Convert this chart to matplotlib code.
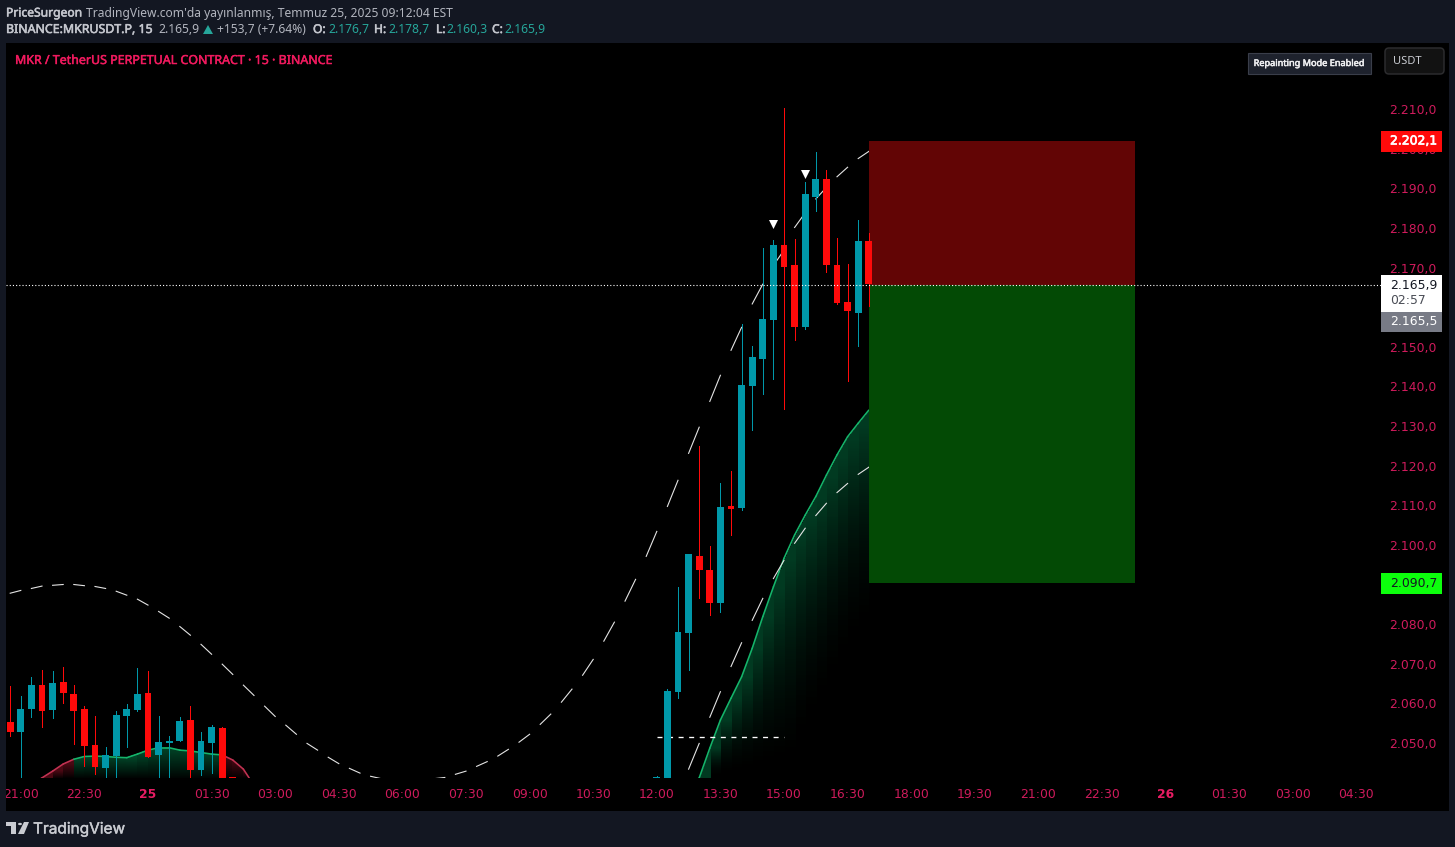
import matplotlib
matplotlib.use("Agg")
import matplotlib.pyplot as plt
import matplotlib.patheffects as pe
from matplotlib.patches import Rectangle, FancyBboxPatch, Polygon, Circle
import numpy as np

W, H = 1455, 847
PAGE = "#131722"
TEAL = "#0098a9"
RED = "#ff0a0a"
AXIS_TXT = "#cf1b5c"

# candles, bar index 0 = 21:00, one bar = 15 min
left_idx = list(range(-1, 21))
left_o = [2055.3, 2052.8, 2058.6, 2064.6, 2058.3, 2065.4, 2062.4, 2058.6, 2049.5, 2043.7, 2046.7,
          2056.8, 2058.3, 2062.6, 2047.0, 2050.0, 2050.5, 2055.8, 2043.2, 2050.0, 2053.8, 2041.4]
left_h = [2064.4, 2061.9, 2066.7, 2068.4, 2068.2, 2069.2, 2064.6, 2059.3, 2056.8, 2049.0, 2058.1,
          2059.9, 2068.9, 2068.2, 2056.8, 2051.8, 2056.6, 2059.3, 2052.8, 2054.6, 2054.0, 2041.4]
left_l = [2051.8, 2040.0, 2056.6, 2054.0, 2056.3, 2060.1, 2049.8, 2044.2, 2042.2, 2040.0, 2040.0,
          2049.0, 2058.1, 2046.5, 2041.4, 2040.0, 2050.5, 2040.0, 2041.9, 2042.4, 2030.0, 2030.0]
left_c = [2052.8, 2058.6, 2064.6, 2058.1, 2065.2, 2062.6, 2058.1, 2049.3, 2044.0, 2047.0, 2057.1,
          2058.6, 2062.4, 2046.5, 2050.3, 2050.5, 2055.6, 2043.2, 2050.5, 2054.0, 2038.0, 2030.0]

right_idx = list(range(60, 81))
right_o = [2041.2, 2030.0, 2062.9, 2077.8, 2097.2, 2093.7, 2085.3, 2109.8, 2109.3, 2140.1, 2146.9,
           2156.8, 2175.7, 2170.6, 2155.0, 2187.8, 2192.3, 2170.6, 2161.3, 2158.5, 2176.7]
right_h = [2041.6, 2063.6, 2089.4, 2097.7, 2124.9, 2099.7, 2115.6, 2118.6, 2155.8, 2150.2, 2174.9,
           2177.0, 2210.3, 2177.2, 2191.6, 2199.1, 2194.6, 2177.5, 2170.9, 2182.0, 2178.7]
right_l = [2041.0, 2030.0, 2061.4, 2068.4, 2086.6, 2082.3, 2083.1, 2102.5, 2108.9, 2129.0, 2138.1,
           2141.9, 2134.3, 2151.7, 2154.5, 2184.3, 2168.9, 2160.8, 2141.4, 2150.2, 2160.3]
right_c = [2041.4, 2063.1, 2078.0, 2097.7, 2093.7, 2085.3, 2109.5, 2109.0, 2140.4, 2147.4, 2157.0,
           2175.7, 2170.1, 2155.0, 2188.6, 2192.3, 2170.6, 2161.0, 2159.0, 2176.7, 2165.9]

# upper dashed band, bars -1 .. 80
upper_band = [2087.8, 2088.5, 2089.0, 2089.6, 2089.8, 2090.0, 2090.0, 2089.7, 2089.5, 2089.0, 2088.3,
              2087.3, 2086.3, 2084.8, 2083.2, 2081.5, 2079.4, 2077.2, 2074.9, 2072.4, 2069.9, 2067.3,
              2064.6, 2062.0, 2059.3, 2056.7, 2054.5, 2052.2, 2049.9, 2048.2, 2046.4, 2044.8, 2043.6,
              2042.4, 2041.6, 2041.0, 2040.2, 2039.6, 2039.4, 2039.8, 2041.0, 2041.3, 2042.1, 2042.9,
              2044.1, 2045.3, 2046.7, 2048.4, 2050.2, 2052.2, 2054.7, 2057.3, 2060.3, 2063.6, 2067.1,
              2071.1, 2075.7, 2080.5, 2085.8, 2091.3, 2097.1, 2103.4, 2109.7, 2116.3, 2123.1, 2129.7,
              2136.2, 2142.8, 2149.1, 2154.9, 2160.8, 2165.8, 2170.5, 2174.4, 2180.1, 2183.8, 2187.3,
              2190.2, 2192.9, 2195.3, 2197.5, 2199.3]
# lower dashed band, bars 63 .. 80
lower_band = [2043.4, 2049.9, 2056.5, 2062.95, 2069.3, 2075.3, 2080.95, 2086.5, 2091.5, 2096.1,
              2100.4, 2104.2, 2107.4, 2110.5, 2113.2, 2115.5, 2117.8, 2119.6]

# filled area, two humps
hump1_idx = list(range(1, 23))
hump1 = [2039.5, 2041.2, 2042.9, 2044.7, 2045.9, 2046.6, 2046.7, 2046.6, 2046.4, 2046.3, 2047.2,
         2048.2, 2048.8, 2048.8, 2048.2, 2048.0, 2047.6, 2047.2, 2047.0, 2045.7, 2043.4, 2039.3]
hump1_green = [5, 19]  # first and last bar of the green stretch
hump2_idx = list(range(63, 81))
hump2 = [2034.8, 2041.2, 2048.7, 2055.8, 2061.3, 2066.7, 2073.9, 2081.9, 2089.4, 2096.6, 2102.5,
         2107.5, 2112.2, 2117.6, 2122.7, 2127.3, 2130.7, 2134.0]

level_line = 2051.5
level_bars = [60, 72]
marker_idx = [71, 74]
marker_y = [2181.0, 2193.6]

box_bars = [80.0, 105.1]
box_top, box_mid, box_bot = 2202.0, 2165.6, 2090.4
last_price = 2165.5

y_ticks = list(range(2050, 2220, 10))
x_tick_idx = list(range(0, 132, 6))
x_tick_labels = ["21:00", "22:30", "25", "01:30", "03:00", "04:30", "06:00", "07:30", "09:00", "10:30",
                 "12:00", "13:30", "15:00", "16:30", "18:00", "19:30", "21:00", "22:30", "26", "01:30",
                 "03:00", "04:30"]


def fx(x):
    return x / W


def fy(y):
    return 1 - y / H


fig = plt.figure(figsize=(W / 100, H / 100), dpi=100, facecolor=PAGE)
plt.rcParams["lines.scale_dashes"] = False


def px_rect(x0, y0, x1, y1, color, zorder=1, **kw):
    r = Rectangle((fx(x0), fy(y1)), (x1 - x0) / W, (y1 - y0) / H, transform=fig.transFigure,
                  facecolor=color, linewidth=0, zorder=zorder, **kw)
    fig.add_artist(r)
    return r


def px_text(x, y, s, color, size=8.9, stroke=0, family="DejaVu Sans", ha="left", zorder=8):
    t = fig.text(fx(x), fy(y), s, color=color, fontsize=size, family=family, ha=ha, va="center", zorder=zorder)
    if stroke:
        # fake the semibold the screenshot has
        t.set_path_effects([pe.withStroke(linewidth=stroke, foreground=color)])
    return t


px_rect(6, 43, 1449, 811, "black", zorder=-1)

# axes span the plot pane only, price and time scale sit outside it
ax_l, ax_r, ax_t, ax_b = 6, 1381, 43, 778
ax = fig.add_axes([fx(ax_l), fy(ax_b), (ax_r - ax_l) / W, (ax_b - ax_t) / H], facecolor="black")
bar_px = 10.6
bar0_px = 20.8
ax.set_xlim((ax_l - bar0_px) / bar_px, (ax_r - bar0_px) / bar_px)
ax.set_ylim(2210 - (ax_b - 109) / 3.9625, 2210 + (109 - ax_t) / 3.9625)
for s in ax.spines.values():
    s.set_visible(False)


def draw_area(idx, vals, green_from=None, green_to=None, all_green=False):
    y0, y1 = ax.get_ylim()
    ny = int((y1 - y0) * 3.9625)
    nx = int((idx[-1] - idx[0]) * bar_px)
    xs = np.linspace(idx[0], idx[-1], nx)
    ys = np.linspace(y0, y1, ny)
    rgba = np.zeros((ny, nx, 4))
    top = np.interp(xs, idx, vals)
    for j, x in enumerate(xs):
        k = int(x - idx[0])
        is_green = all_green or (green_from <= idx[k] < green_to)
        base = vals[k]
        span = max(base - y0, 2.0)
        if all_green:
            span = min(span, 55)
        t = np.clip(1 - (base - ys) / span, 0, 1)
        a = 0.3 * t ** 1.8 if all_green else 0.32 * t + 0.03
        a = np.where(ys > top[j], 0, a)
        rgba[:, j, 0] = 0.02 if is_green else 0.85
        rgba[:, j, 1] = 0.78 if is_green else 0.10
        rgba[:, j, 2] = 0.45 if is_green else 0.22
        rgba[:, j, 3] = a
    xl, yl = ax.get_xlim(), ax.get_ylim()
    ax.imshow(rgba, origin="lower", aspect="auto", extent=(idx[0], idx[-1], y0, y1), zorder=1,
              interpolation="nearest")
    ax.set_xlim(xl)
    ax.set_ylim(yl)
    for k in range(len(idx) - 1):
        is_green = all_green or (green_from <= idx[k] < green_to)
        ax.plot(idx[k:k + 2], vals[k:k + 2], color="#15b56b" if is_green else "#c23252", lw=1.15, zorder=2,
                solid_capstyle="round")


draw_area(hump1_idx, hump1, hump1_green[0], hump1_green[1])
draw_area(hump2_idx, hump2, all_green=True)

# bands are painted on odd bars only, that is what makes them look dashed
for start, band in ((-1, upper_band), (63, lower_band)):
    for k in range(len(band) - 1):
        if (start + k) % 2 == 1:
            ax.plot([start + k, start + k + 1], band[k:k + 2], color="#e4e4e4", lw=0.8, zorder=3)

ax.plot(level_bars, [level_line, level_line], color="white", lw=0.95, dashes=(3.6, 4.0), zorder=3)

ax.add_patch(Rectangle((box_bars[0], box_mid), box_bars[1] - box_bars[0], box_top - box_mid,
                       facecolor="#620505", edgecolor="none", zorder=4))
ax.add_patch(Rectangle((box_bars[0], box_bot), box_bars[1] - box_bars[0], box_mid - box_bot,
                       facecolor="#034a05", edgecolor="none", zorder=4))

for idx, o, h, l, c in ((left_idx, left_o, left_h, left_l, left_c),
                        (right_idx, right_o, right_h, right_l, right_c)):
    for i, op, hi, lo, cl in zip(idx, o, h, l, c):
        col = TEAL if cl >= op else RED
        # 1 px wick, centred by the bar drawn on top of it
        ax.vlines(i, lo, hi, color=col, lw=0.7, zorder=5, antialiased=False)
        ax.bar(i, abs(cl - op), bottom=min(op, cl), width=0.66, color=col, linewidth=0, zorder=6)

ax.scatter(marker_idx, marker_y, marker="v", s=42, color="white", linewidths=0, zorder=7)

ax.axhline(last_price, color="white", lw=0.8, dashes=(0.8, 1.5), zorder=7)

# scales
ax.yaxis.tick_right()
ax.set_yticks(y_ticks)
ax.set_yticklabels([f"{v // 1000}.{v % 1000:03d},0" for v in y_ticks])
ax.tick_params(axis="y", length=0, pad=6.0, labelsize=8.9, labelcolor=AXIS_TXT)
ax.set_xticks(x_tick_idx)
ax.set_xticklabels(x_tick_labels)
ax.tick_params(axis="x", length=0, pad=7.5, labelsize=8.9, labelcolor=AXIS_TXT)
for t in ax.get_xticklabels():
    if t.get_text() in ("25", "26"):
        t.set_fontweight("bold")
        t.set_color("#e81c63")

# page strip over the clipped first time label
px_rect(0, 43, 6, 811, PAGE, zorder=6)

# price tags
px_rect(1381, 131, 1442, 152, "#ff0a0a", zorder=6)
px_text(1390, 141, "2.202,1", "white", stroke=0.5)
px_rect(1381, 275, 1442, 312, "white", zorder=6)
px_text(1390, 285, "2.165,9", "#131722")
px_text(1390, 301, "02:57", "#4a4d56")
px_rect(1381, 312, 1442, 332, "#787b86", zorder=6)
px_text(1390, 321, "2.165,5", "white")
px_rect(1381, 573, 1442, 594, "#0cff0c", zorder=6)
px_text(1390, 583, "2.090,7", "#131722")

# buttons
fig.add_artist(Rectangle((fx(1247.5), fy(74)), 123 / W, 21 / H, transform=fig.transFigure,
                         facecolor="#1e222d", edgecolor="#3a3e4a", linewidth=0.8, zorder=6))
px_text(1309, 63.5, "Repainting Mode Enabled", "#eeeeF0", size=6.6, stroke=0.4, family="Noto Sans", ha="center")
fig.add_artist(FancyBboxPatch((fx(1385), fy(74)), 59 / W, 26 / H, transform=fig.transFigure,
                              boxstyle=f"round,pad=0,rounding_size={4 / W}", mutation_aspect=W / H,
                              facecolor="#121212", edgecolor="#2c2c2e", linewidth=1.1, zorder=6))
px_text(1393, 61.5, "USDT", "#c8cad0", size=8.0, family="Noto Sans")

# title and header
NOTO = "Noto Sans"
px_text(15, 60.5, "MKR / TetherUS PERPETUAL CONTRACT · 15 · BINANCE", "#f01a5e", size=8.95, stroke=0.35, family=NOTO)
HDR = "#b2b5be"
BOLD_HDR = "#c4c6cd"
px_text(6, 13, "PriceSurgeon", BOLD_HDR, size=8.7, stroke=0.4, family=NOTO)
px_text(86, 13, "TradingView.com'da yayınlanmış, Temmuz 25, 2025 09:12:04 EST", HDR, size=8.7, family=NOTO)
px_text(6, 29.5, "BINANCE:MKRUSDT.P, 15", BOLD_HDR, size=8.9, stroke=0.4, family=NOTO)
px_text(158, 29.5, "2.165,9", HDR, size=8.7, family=NOTO)
fig.add_artist(Polygon([(fx(203), fy(34)), (fx(213), fy(34)), (fx(208), fy(25))], closed=True,
                       transform=fig.transFigure, facecolor="#26a69a", edgecolor="none", zorder=8))
px_text(217, 29.5, "+153,7 (+7.64%)", HDR, size=8.7, family=NOTO)
ohlc = [(313, 328, "O:", "2.176,7"), (374, 388, "H:", "2.178,7"), (436, 446, "L:", "2.160,3"), (492, 504, "C:", "2.165,9")]
for x1, x2, name, val in ohlc:
    px_text(x1, 29.5, name, BOLD_HDR, size=8.7, stroke=0.4, family=NOTO)
    px_text(x2, 29.5, val, "#26a69a", size=8.7, family=NOTO)

# logo
LOGO = "#c9cbd1"
px_rect(6, 822, 16, 826, LOGO, zorder=8)
px_rect(11, 822, 16, 834, LOGO, zorder=8)
fig.add_artist(Circle((fx(20), fy(824)), 2 / W, transform=fig.transFigure, facecolor=LOGO, edgecolor="none", zorder=8))
fig.add_artist(Polygon([(fx(24), fy(822)), (fx(29), fy(822)), (fx(24), fy(834)), (fx(18), fy(834))], closed=True,
                       transform=fig.transFigure, facecolor=LOGO, edgecolor="none", zorder=8))
px_text(33, 829, "TradingView", LOGO, size=11.1, stroke=0.3, family="Inter")

fig.savefig("out.png", dpi=100, facecolor=PAGE)
